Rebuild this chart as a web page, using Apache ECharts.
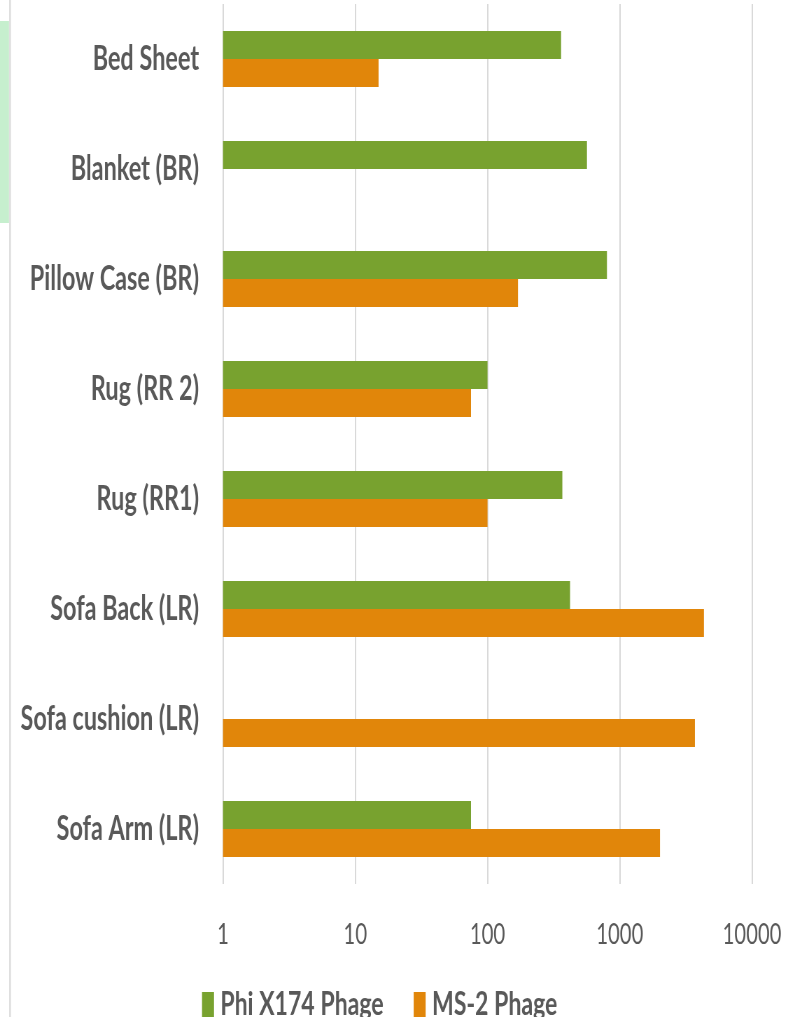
<!DOCTYPE html>
<html>
<head>
<meta charset="utf-8">
<script src="https://cdn.jsdelivr.net/npm/echarts@6/dist/echarts.min.js"></script>
<style>
  html, body { margin: 0; padding: 0; background: #fff; overflow: hidden; }
  #wrap { width: 788px; height: 1017px; overflow: hidden; position: relative; }
  /* chart is laid out wide and squeezed horizontally for the narrow type look */
  #chart { width: 1126px; height: 1017px; transform: scaleX(0.69982); transform-origin: 0 0; }
</style>
</head>
<body>
<div id="wrap"><div id="chart"></div></div>
<script>
// Sampling locations, top to bottom
const categories = [
  'Bed Sheet', 'Blanket (BR)', 'Pillow Case (BR)', 'Rug (RR 2)',
  'Rug (RR1)', 'Sofa Back (LR)', 'Sofa cushion (LR)', 'Sofa Arm (LR)'
];
const seriesNames = ['Phi X174 Phage', 'MS-2 Phage'];
// Recovered phage counts (null = not detected)
const phiX174 = [360, 565, 800, 100, 368, 421, null, 75];
const ms2 = [15, null, 170, 75, 100, 4330, 3700, 2015];
const xTicks = [1, 10, 100, 1000, 10000];

const SX = 788 / 1126;           // horizontal squeeze of the chart box
const ux = px => px / SX;        // screen px -> layout px

const textGray = '#595959';
const green = '#78A22F';
const orange = '#E1860A';

const chart = echarts.init(document.getElementById('chart'), null, { renderer: 'canvas' });

chart.setOption({
  animation: false,
  backgroundColor: '#ffffff',
  grid: {
    left: ux(223),
    right: 1126 - ux(752),
    top: 4,
    bottom: 1017 - 884,
    containLabel: false
  },
  xAxis: {
    type: 'log',
    logBase: 10,
    min: xTicks[0],
    max: xTicks[xTicks.length - 1],
    axisLine: { show: false },
    axisTick: { show: false },
    splitLine: { show: true, lineStyle: { color: '#d9d9d9', width: 2 } },
    axisLabel: {
      margin: 36,
      color: textGray,
      fontFamily: 'Lato',
      fontSize: 29,
      formatter: v => String(Math.round(v))
    }
  },
  yAxis: {
    type: 'category',
    inverse: true,
    data: categories,
    axisLine: { show: false },
    axisTick: { show: false },
    splitLine: { show: false },
    axisLabel: {
      margin: ux(24),
      color: textGray,
      fontFamily: 'Lato',
      fontWeight: 'bold',
      fontSize: 33.5
    }
  },
  legend: {
    data: seriesNames,
    left: ux(202),
    top: 988,
    padding: 0,
    icon: 'rect',
    itemWidth: ux(12),
    itemHeight: 25,
    itemGap: ux(30),
    textStyle: {
      color: textGray,
      fontFamily: 'Lato',
      fontWeight: 'bold',
      fontSize: 33,
      padding: [0, 0, 0, 4]
    }
  },
  graphic: [
    {
      type: 'rect',
      shape: { x: 0, y: 21, width: ux(9), height: 202 },
      style: { fill: '#C6EFCE' },
      silent: true
    },
    {
      type: 'rect',
      shape: { x: ux(9.3), y: 0, width: ux(1.4), height: 1017 },
      style: { fill: '#d4d4d4' },
      silent: true
    }
  ],
  series: [
    {
      name: seriesNames[0],
      type: 'bar',
      data: phiX174,
      barGap: '0%',
      barCategoryGap: '49.1%',
      itemStyle: { color: green }
    },
    {
      name: seriesNames[1],
      type: 'bar',
      data: ms2,
      barGap: '0%',
      barCategoryGap: '49.1%',
      itemStyle: { color: orange }
    }
  ]
});
</script>
</body>
</html>
